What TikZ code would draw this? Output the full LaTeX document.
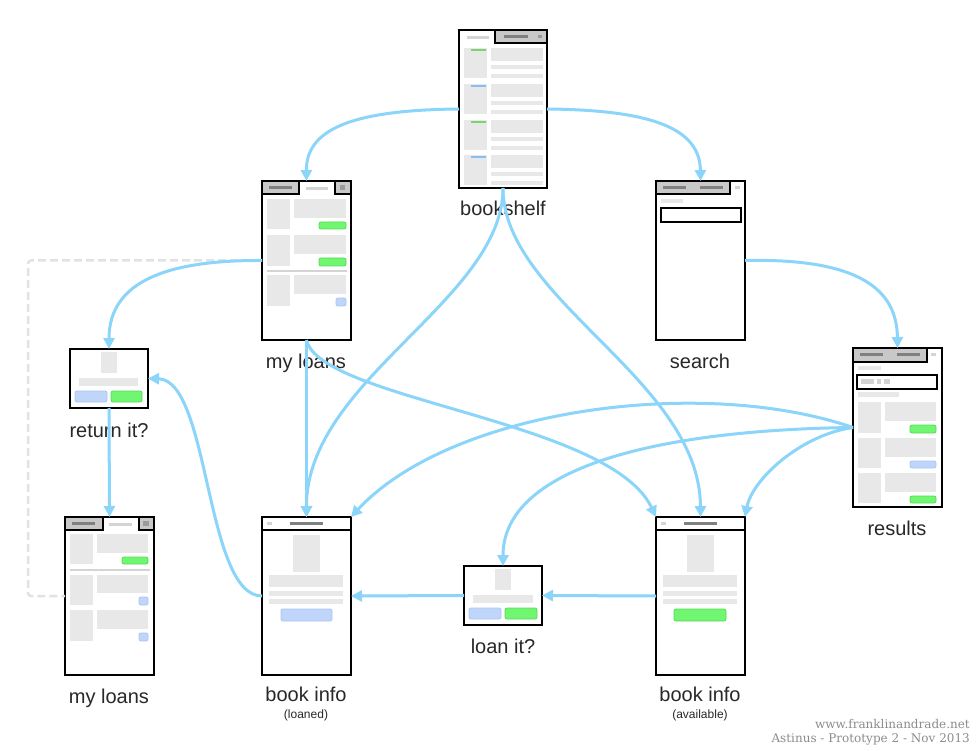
\documentclass[tikz,border=0pt]{standalone}
\usepackage{fontspec}
\setmainfont{Liberation Sans}
\newfontfamily\footfont{DejaVu Serif}
\usetikzlibrary{arrows.meta}
\definecolor{arrblue}{RGB}{139,213,250}
\definecolor{lgray}{RGB}{232,232,232}
\definecolor{mgray}{RGB}{212,212,212}
\definecolor{tabgray}{RGB}{200,200,200}
\definecolor{dgray}{RGB}{128,128,128}
\definecolor{gfill}{RGB}{112,246,112}
\definecolor{gdraw}{RGB}{85,220,85}
\definecolor{bfill}{RGB}{192,213,250}
\definecolor{bdraw}{RGB}{170,196,242}
\definecolor{stripg}{RGB}{125,210,105}
\definecolor{stripb}{RGB}{140,190,235}
\definecolor{dashgray}{RGB}{226,226,226}
\definecolor{txt}{RGB}{40,40,40}
\definecolor{foot}{RGB}{140,140,140}
\begin{document}
\begin{tikzpicture}[x=1pt,y=-1pt,
 screen/.style={draw=black, line width=2.6pt, fill=white, anchor=north west, inner sep=0pt, outer sep=0pt, minimum width=89pt, minimum height=158pt},
 dialog/.style={draw=black, line width=2.6pt, fill=white, anchor=north west, inner sep=0pt, outer sep=0pt, minimum width=78pt, minimum height=59pt},
 blk/.style={fill=lgray},
 tabbox/.style={fill=tabgray, draw=black, line width=2.6pt},
 dbar/.style={fill=dgray},
 lbar/.style={fill=mgray},
 gbtn/.style={fill=gfill, draw=gdraw, line width=0.8pt, rounded corners=2pt},
 bbtn/.style={fill=bfill, draw=bdraw, line width=0.8pt, rounded corners=2pt},
 sepline/.style={draw=mgray, line width=1.6pt},
 arr/.style={draw=arrblue, line width=3pt, -{Triangle[length=11pt,width=11pt]}},
 lbl/.style={text=txt, font=\fontsize{20}{24}\selectfont, inner sep=0pt, anchor=base},
 sublbl/.style={text=txt, font=\fontsize{12}{14}\selectfont, inner sep=0pt, anchor=base},
 ftxt/.style={text=foot, font=\footfont\fontsize{12}{14}\selectfont, inner sep=0pt, anchor=base east},
]
\useasboundingbox[fill=white] (0,0) rectangle (977,751);

% ---------- bookshelf ----------
\node[screen, minimum width=88pt] (shelf) at (459,30) {};
\begin{scope}[shift={(459,30)}]
 \fill[lbar] (8,6) rectangle (30,9);
 \draw[tabbox] (36,0) rectangle (88,13);
 \fill[dbar] (45,5) rectangle (69,8);
 \fill[dgray!80] (79,5) rectangle (83,8);
 \foreach \r/\c in {18/stripg, 54/stripb, 90/stripg, 125/stripb} {
  \fill[blk] (5,\r) rectangle (28,\r+30);
  \fill[\c] (12,\r+1) rectangle (27,\r+3);
  \fill[blk] (32,\r) rectangle (84,\r+13);
  \fill[blk] (32,\r+17) rectangle (84,\r+21);
  \fill[blk] (32,\r+26) rectangle (84,\r+30);
 }
\end{scope}
\node[lbl] (shelfl) at (503,216) {bookshelf};

% ---------- my loans (top) ----------
\node[screen, minimum height=159pt] (loans) at (262,181) {};
\begin{scope}[shift={(262,181)}]
 \draw[tabbox] (0,0) rectangle (37,13);
 \fill[dbar] (7,5) rectangle (30,8);
 \fill[lbar] (44,6) rectangle (66,9);
 \draw[tabbox] (73,0) rectangle (89,13);
 \fill[dgray!80] (78,4) rectangle (83,9);
 \fill[blk] (5,18) rectangle (28,48);
 \fill[blk] (32,18) rectangle (84,37);
 \draw[gbtn] (57,41) rectangle (84,48);
 \fill[blk] (5,54) rectangle (28,85);
 \fill[blk] (32,54) rectangle (84,73);
 \draw[gbtn] (57,77) rectangle (84,85);
 \draw[sepline] (5,90) -- (85,90);
 \fill[blk] (5,94) rectangle (28,125);
 \fill[blk] (32,94) rectangle (84,113);
 \draw[bbtn] (74,117) rectangle (84,125);
\end{scope}
\node[lbl] (loansl) at (306,368) {my loans};

% ---------- search ----------
\node[screen, minimum height=159pt] (search) at (656,181) {};
\begin{scope}[shift={(656,181)}]
 \draw[tabbox] (0,0) rectangle (74,13);
 \fill[dbar] (7,5) rectangle (30,8);
 \fill[dbar] (44,5) rectangle (67,8);
 \fill[mgray] (79,5) rectangle (84,8);
 \fill[lgray] (5,18) rectangle (27,22);
 \draw[black, line width=2.4pt] (5,27) rectangle (85,41);
\end{scope}
\node[lbl] (searchl) at (700,368) {search};

% ---------- results ----------
\node[screen, minimum height=159pt] (results) at (853,348) {};
\begin{scope}[shift={(853,348)}]
 \draw[tabbox] (0,0) rectangle (74,14);
 \fill[dbar] (7,5) rectangle (30,8);
 \fill[dbar] (44,5) rectangle (67,8);
 \fill[mgray] (78,5) rectangle (83,8);
 \fill[lgray] (5,18) rectangle (28,22);
 \draw[black, line width=2.4pt] (4,27) rectangle (84,41);
 \fill[mgray] (8,31) rectangle (21,36);
 \fill[mgray] (24,31) rectangle (28,36);
 \fill[mgray] (31,31) rectangle (37,36);
 \fill[lgray] (5,44) rectangle (46,49);
 \fill[blk] (5,54) rectangle (28,85);
 \fill[blk] (32,54) rectangle (83,73);
 \draw[gbtn] (57,77) rectangle (83,85);
 \fill[blk] (5,90) rectangle (28,120);
 \fill[blk] (32,90) rectangle (83,109);
 \draw[bbtn] (57,113) rectangle (83,120);
 \fill[blk] (5,125) rectangle (28,155);
 \fill[blk] (32,125) rectangle (83,144);
 \draw[gbtn] (57,148) rectangle (83,155);
\end{scope}
\node[lbl] (resultsl) at (897,535) {results};

% ---------- return it? ----------
\node[dialog] (ret) at (70,349) {};
\begin{scope}[shift={(70,349)}]
 \fill[blk] (31,3) rectangle (47,24);
 \fill[blk] (9,29) rectangle (68,37);
 \draw[bbtn] (5,42) rectangle (37,53);
 \draw[gbtn] (41,42) rectangle (72,53);
\end{scope}
\node[lbl] (retl) at (109,437) {return it?};

% ---------- loan it? ----------
\node[dialog] (loanit) at (464,566) {};
\begin{scope}[shift={(464,566)}]
 \fill[blk] (31,3) rectangle (47,24);
 \fill[blk] (9,29) rectangle (69,37);
 \draw[bbtn] (5,42) rectangle (37,53);
 \draw[gbtn] (41,42) rectangle (73,53);
\end{scope}
\node[lbl] (loanitl) at (503,653) {loan it?};

% ---------- my loans (bottom) ----------
\node[screen] (loans2) at (65,517) {};
\begin{scope}[shift={(65,517)}]
 \draw[tabbox] (0,0) rectangle (38,13);
 \fill[dbar] (7,5) rectangle (30,8);
 \fill[lbar] (44,6) rectangle (67,9);
 \draw[tabbox] (74,0) rectangle (89,13);
 \fill[dgray!80] (78,4) rectangle (84,9);
 \fill[blk] (5,17) rectangle (28,47);
 \fill[blk] (32,17) rectangle (83,36);
 \draw[gbtn] (57,40) rectangle (83,47);
 \draw[sepline] (5,53) -- (85,53);
 \fill[blk] (5,58) rectangle (28,88);
 \fill[blk] (32,58) rectangle (83,76);
 \draw[bbtn] (74,80) rectangle (83,88);
 \fill[blk] (5,93) rectangle (28,124);
 \fill[blk] (32,93) rectangle (83,112);
 \draw[bbtn] (74,116) rectangle (83,124);
\end{scope}
\node[lbl] (loans2l) at (109,703) {my loans};

% ---------- book info (loaned) ----------
\node[screen] (infoL) at (262,517) {};
\begin{scope}[shift={(262,517)}]
 \draw[black, line width=2.6pt] (0,13) -- (89,13);
 \fill[mgray] (5,5) rectangle (10,8);
 \fill[dbar] (28,5) rectangle (61,8);
 \fill[blk] (31,18) rectangle (58,55);
 \fill[blk] (7,58) rectangle (81,70);
 \fill[blk] (7,74) rectangle (81,79);
 \fill[blk] (7,82) rectangle (81,87);
 \draw[bbtn] (19,92) rectangle (70,104);
\end{scope}
\node[lbl] (infoLl) at (306,701) {book info};
\node[sublbl] (infoLs) at (306,718) {(loaned)};

% ---------- book info (available) ----------
\node[screen] (infoA) at (656,517) {};
\begin{scope}[shift={(656,517)}]
 \draw[black, line width=2.6pt] (0,13) -- (89,13);
 \fill[mgray] (5,5) rectangle (10,8);
 \fill[dbar] (28,5) rectangle (61,8);
 \fill[blk] (31,18) rectangle (58,55);
 \fill[blk] (7,58) rectangle (81,70);
 \fill[blk] (7,74) rectangle (81,79);
 \fill[blk] (7,82) rectangle (81,87);
 \draw[gbtn] (18,92) rectangle (70,104);
\end{scope}
\node[lbl] (infoAl) at (700,701) {book info};
\node[sublbl] (infoAs) at (700,718) {(available)};

% ---------- dashed back link ----------
\coordinate (dcorner) at (28,596);
\draw[dashgray, line width=2.5pt, dash pattern=on 8pt off 4pt, rounded corners=3pt]
  (loans.west) -| (dcorner) -- (loans2.west);

% ---------- arrows ----------
\draw[arr] (shelf.west) .. controls (350,110) and (306,130) .. (loans.north);
\draw[arr] (shelf.east) .. controls (656,110) and (700,130) .. (search.north);
\draw[arr] (shelf.south) .. controls (503,300) and (306,380) .. (infoL.north);
\draw[arr] (shelf.south) .. controls (503,300) and (700,380) .. (infoA.north);
\draw[arr] (loans.west) .. controls (170,260) and (109,280) .. (ret.north);
\draw[arr] (loans.south) -- (infoL.north);
\draw[arr] (loans.south) .. controls (320,400) and (610,420) .. (infoA.north west);
\draw[arr] (search.east) .. controls (860,258) and (897,290) .. (results.north);
\draw[arr] (results.west) .. controls (700,375) and (450,410) .. (infoL.north east);
\draw[arr] (results.west) .. controls (650,430) and (503,470) .. (loanit.north);
\draw[arr] (results.west) .. controls (800,435) and (752,480) .. (infoA.north east);
\draw[arr] (infoA.west) -- (loanit.east);
\draw[arr] (loanit.west) -- (infoL.east);
\draw[arr] (infoL.west) .. controls (205,596) and (210,380) .. (ret.east);
\draw[arr] (ret.south) -- (loans2.north);

% ---------- footer ----------
\node[ftxt] (foot1) at (970,728) {www.franklinandrade.net};
\node[ftxt] (foot2) at (970,742) {Astinus - Prototype 2 - Nov 2013};
\end{tikzpicture}
\end{document}
